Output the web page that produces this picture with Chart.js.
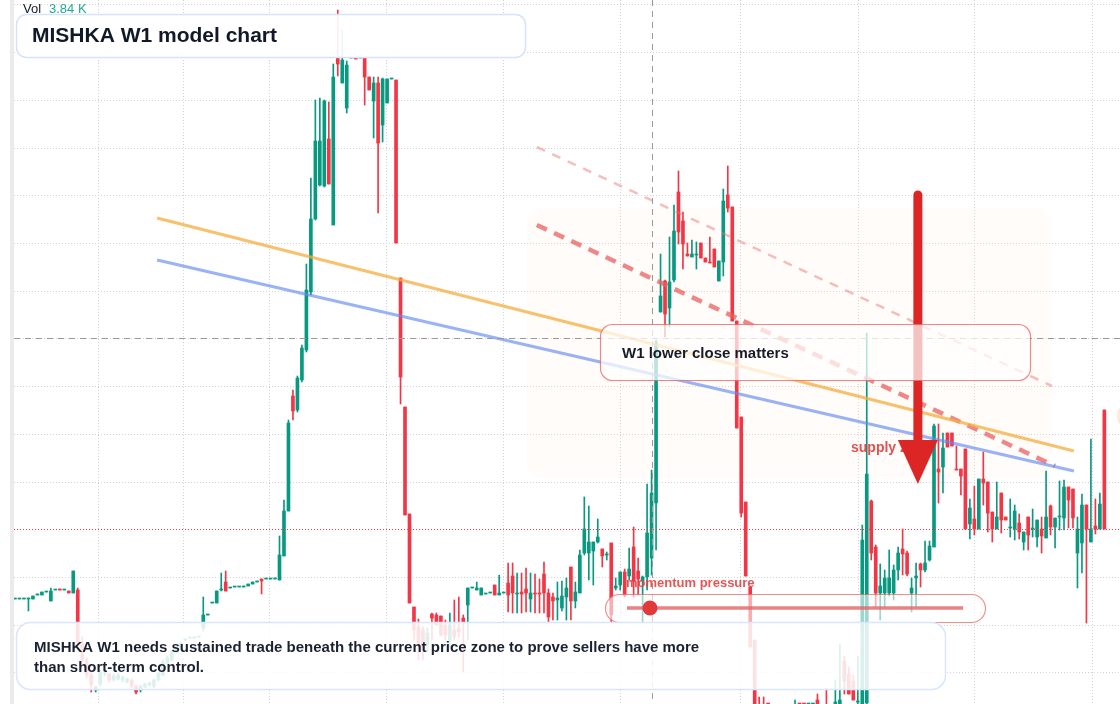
<!DOCTYPE html>
<html>
<head>
<meta charset="utf-8">
<title>MISHKA W1 model chart</title>
<script src="https://cdn.jsdelivr.net/npm/chart.js@4.4.1/dist/chart.umd.min.js"></script>
<style>
  html, body { margin: 0; padding: 0; background: #ffffff; }
  #wrap { position: relative; width: 1120px; height: 704px; overflow: hidden; }
</style>
</head>
<body>
<div id="wrap"><canvas id="chart" width="1120" height="704"></canvas></div>
<script>
// weekly candles (index = week number)
const opens = [
  1.21,1.21,1.21,1.21,1.21,1.25,1.25,1.28,1.19,1.30,1.31,1.30,1.29,1.27,1.30,0.77,0.60,0.45,0.30,0.36,
  0.46,0.46,0.40,0.41,0.40,0.38,0.40,0.34,0.30,0.33,0.35,0.34,0.40,0.45,0.57,0.60,0.68,0.73,0.80,0.82,
  0.82,0.83,0.92,1.05,1.17,1.17,1.30,1.38,1.32,1.33,1.33,1.33,1.34,1.36,1.38,1.41,1.41,1.41,1.41,1.40,
  1.64,2.09,3.24,3.10,3.40,3.70,4.28,5.01,5.35,5.34,5.81,4.95,6.62,6.37,6.12,6.62,6.62,6.62,6.62,6.43,
  6.19,6.37,5.95,6.17,6.41,6.40,4.42,3.13,2.06,1.13,0.93,0.90,0.75,1.06,1.05,1.04,0.95,0.80,0.90,0.92,
  1.02,1.15,1.32,1.30,1.25,1.26,1.27,1.35,1.25,1.27,1.37,1.44,1.26,1.28,1.31,1.21,1.27,1.27,1.46,1.27,
  1.23,1.20,1.12,1.23,1.53,1.19,1.27,1.67,1.67,1.69,1.78,1.71,1.65,1.77,1.32,1.35,1.48,1.44,1.73,1.49,
  1.39,1.43,1.62,2.17,4.08,4.39,4.12,4.40,5.28,4.99,4.66,4.63,4.65,4.77,4.62,4.58,4.71,4.39,4.58,5.25,
  5.13,3.99,3.03,2.18,1.33,0.80,0.12,0.15,0.08,0.13,0.07,0.04,0.04,0.14,0.06,0.08,0.08,0.07,0.07,0.20,
  0.06,0.14,0.14,0.12,0.11,0.59,0.46,0.39,0.18,0.04,0.17,2.19,1.73,1.27,1.27,1.27,1.27,1.50,1.71,1.67,
  1.27,1.42,1.56,1.50,1.60,1.73,2.51,2.53,2.87,2.87,2.51,2.51,2.71,1.96,2.01,1.91,2.41,2.38,2.08,1.91,
  2.27,2.03,1.92,1.91,1.97,1.78,2.03,1.91,1.83,1.91,1.82,2.14,1.93,2.03,2.02,2.33,2.31,1.67,1.77,2.15,
  1.78,1.94,1.91,3.10
];
const highs = [
  1.21,1.21,1.21,1.22,1.24,1.26,1.28,1.28,1.32,1.30,1.31,1.30,1.29,1.49,1.32,0.83,0.62,0.47,0.34,0.50,
  0.48,0.47,0.46,0.47,0.44,0.42,0.41,0.35,0.35,0.37,0.38,0.41,0.48,0.60,0.64,0.70,0.75,0.78,0.81,0.82,
  0.82,0.83,1.23,1.05,1.17,1.29,1.47,1.49,1.32,1.33,1.33,1.34,1.36,1.38,1.39,1.41,1.41,1.41,1.42,1.84,
  2.20,3.00,3.30,3.44,3.75,4.56,5.42,6.20,6.22,6.20,6.18,6.56,7.10,6.90,6.59,6.62,6.62,6.62,6.62,6.43,
  6.43,6.43,6.42,6.41,6.41,6.40,4.42,3.13,2.06,1.13,1.01,0.93,0.92,1.07,1.07,1.04,1.00,1.07,1.20,1.23,
  1.05,1.32,1.32,1.38,1.32,1.26,1.27,1.35,1.45,1.27,1.57,1.57,1.47,1.47,1.52,1.47,1.46,1.41,1.58,1.31,
  1.27,1.38,1.39,1.42,1.53,1.38,1.70,2.23,2.14,1.78,2.01,1.71,1.68,1.77,1.42,1.48,1.51,1.72,1.93,1.62,
  1.44,2.36,2.50,3.80,4.66,4.40,4.83,5.15,5.49,5.08,4.77,4.80,4.78,4.77,4.62,4.83,4.71,4.59,5.31,5.54,
  5.13,3.99,3.03,2.18,1.33,0.80,0.23,0.23,0.12,0.13,0.07,0.07,0.07,0.14,0.20,0.09,0.08,0.14,0.10,0.26,
  0.14,0.32,0.14,0.40,0.76,0.64,0.53,0.45,0.64,1.95,3.87,2.20,1.75,1.56,1.50,1.70,1.55,1.73,1.91,1.69,
  1.42,1.57,1.57,1.79,1.79,2.96,2.96,2.87,2.87,2.87,2.74,2.51,2.71,2.21,2.34,2.41,2.68,2.38,2.08,2.38,
  2.27,2.03,2.21,2.15,2.06,1.88,2.03,2.11,2.00,2.03,2.49,2.15,2.02,2.39,2.40,2.33,2.31,2.03,2.26,2.15,
  2.81,2.21,2.27,3.10
];
const lows = [
  1.21,1.21,1.21,1.09,1.21,1.25,1.25,1.28,1.19,1.30,1.30,1.30,1.27,1.27,0.77,0.58,0.42,0.28,0.28,0.34,
  0.44,0.38,0.39,0.40,0.38,0.37,0.32,0.26,0.28,0.32,0.34,0.32,0.39,0.44,0.56,0.59,0.67,0.72,0.79,0.82,
  0.82,0.83,0.89,1.05,1.17,1.17,1.29,1.29,1.32,1.33,1.33,1.33,1.34,1.36,1.38,1.26,1.41,1.41,1.41,1.40,
  1.64,2.09,3.00,3.08,3.38,3.68,4.25,5.00,5.34,5.33,5.36,4.95,6.44,6.37,6.07,6.62,6.61,6.62,6.15,6.30,
  5.82,5.07,5.78,6.17,6.41,4.77,3.16,2.05,1.17,0.80,0.60,0.60,0.68,0.80,0.95,0.84,0.80,0.73,0.80,0.83,
  0.48,0.80,1.32,1.30,1.25,1.26,1.27,1.25,1.25,1.27,1.08,1.07,1.07,1.07,1.08,1.08,1.07,1.07,1.07,0.98,
  1.00,1.00,1.09,1.00,1.00,1.12,1.27,1.65,1.40,1.35,1.77,1.53,1.60,0.98,1.30,1.30,1.23,1.40,1.23,1.25,
  0.98,1.30,1.45,1.70,4.08,3.83,3.93,4.38,4.76,4.51,4.64,4.63,4.51,4.62,4.58,4.57,4.53,4.39,4.44,5.08,
  3.99,2.92,2.03,1.44,0.73,0.04,0.04,0.04,0.04,0.05,0.06,0.04,0.04,0.04,0.04,0.04,0.07,0.06,0.06,0.04,
  0.04,0.04,0.07,0.10,0.10,0.26,0.26,0.20,0.04,0.00,0.04,1.60,1.13,1.00,1.13,1.24,1.20,1.40,1.45,1.44,
  1.08,1.13,1.33,1.48,1.59,1.73,2.17,2.27,2.73,2.74,2.50,2.25,1.91,1.81,1.85,1.91,2.15,1.88,1.78,1.91,
  1.87,2.00,1.83,1.80,1.81,1.70,1.70,1.83,1.73,1.67,1.82,1.85,1.72,1.90,1.90,1.92,1.92,1.32,1.47,0.97,
  1.78,1.86,1.91,1.91
];
const closes = [
  1.21,1.21,1.21,1.22,1.24,1.26,1.28,1.28,1.29,1.30,1.30,1.30,1.27,1.49,0.77,0.60,0.45,0.35,0.33,0.48,
  0.46,0.40,0.44,0.45,0.43,0.41,0.34,0.28,0.34,0.36,0.37,0.40,0.47,0.58,0.62,0.69,0.73,0.77,0.80,0.82,
  0.82,0.83,1.05,1.05,1.17,1.29,1.31,1.29,1.32,1.33,1.33,1.34,1.36,1.38,1.39,1.39,1.41,1.41,1.42,1.65,
  2.09,2.97,3.09,3.42,3.72,4.30,5.01,5.79,5.79,6.19,5.36,6.43,6.56,6.60,6.55,6.62,6.61,6.62,6.43,6.30,
  6.37,5.77,6.41,6.41,6.41,4.77,3.43,2.05,1.17,0.90,0.77,0.70,0.87,1.02,0.95,0.85,0.85,0.95,0.83,0.88,
  0.98,1.32,1.32,1.32,1.32,1.26,1.27,1.25,1.27,1.27,1.25,1.27,1.27,1.26,1.27,1.27,1.26,1.26,1.27,1.03,
  1.19,1.22,1.24,1.32,1.19,1.28,1.65,1.91,1.78,1.78,1.83,1.64,1.65,1.05,1.34,1.48,1.25,1.51,1.39,1.41,
  1.43,1.87,2.27,3.77,4.24,4.06,4.38,4.89,4.88,4.76,4.64,4.66,4.66,4.62,4.58,4.57,4.53,4.59,5.19,5.12,
  3.99,2.92,2.07,1.44,0.73,0.04,0.04,0.07,0.07,0.05,0.06,0.07,0.07,0.04,0.07,0.07,0.07,0.07,0.08,0.04,
  0.07,0.04,0.07,0.18,0.20,0.39,0.26,0.20,0.19,1.80,2.46,1.67,1.27,1.34,1.42,1.42,1.50,1.67,1.66,1.46,
  1.32,1.44,1.50,1.57,1.74,2.94,2.48,2.72,2.73,2.74,2.50,2.44,1.91,2.12,1.91,2.41,2.37,2.07,1.91,2.03,
  2.00,2.00,1.92,2.09,1.88,1.88,1.85,1.91,2.00,1.84,2.03,1.93,2.02,2.03,2.33,2.20,2.02,1.91,2.15,1.91,
  1.91,1.91,2.16,1.91
];

// dotted grid: time grid (week index) and price grid
const timeGrid = [18.5, 37.5, 56.7, 82.8, 108.9, 135.0, 161.7, 188.0, 213.9, 240.2];
const priceGrid = [0.477, 0.954, 1.431, 1.908, 2.385, 2.862, 3.339, 3.816, 4.293, 4.770, 5.247, 5.724, 6.201, 6.678, 7.155];

const lastPrice = 1.91;
const crossWeek = 142;
const crossPrice = 3.82;

// drawn trend lines [week, price]
const orangeTrend = [[31.7, 5.02], [236.2, 2.69]];
const blueTrend = [[31.7, 4.60], [236.2, 2.49]];
const redTrend = [[116.4, 4.95], [232.0, 2.54]];
const redTrendFaint = [[116.4, 5.73], [231.3, 3.34]];

// shaded zone and arrow
const zoneWeeks = [114.2, 231.3];
const zonePrices = [2.42, 5.12];
const arrowWeek = 201.4;
const arrowPrices = [5.25, 2.80, 2.36]; // top, head base, tip

const UP = '#089981';
const DOWN = '#f23645';

const weeks = opens.map((_, i) => i);
const candleColor = weeks.map(i => closes[i] >= opens[i] ? UP : DOWN);
const wickData = weeks.map(i => ({ x: i, y: [lows[i], highs[i]] }));
const bodyData = weeks.map(i => ({ x: i, y: [opens[i], closes[i]] }));

function toPts(arr) { return arr.map(p => ({ x: p[0], y: p[1] })); }

function roundRect(ctx, x, y, w, h, r) {
  ctx.beginPath();
  ctx.moveTo(x + r, y);
  ctx.arcTo(x + w, y, x + w, y + h, r);
  ctx.arcTo(x + w, y + h, x, y + h, r);
  ctx.arcTo(x, y + h, x, y, r);
  ctx.arcTo(x, y, x + w, y, r);
  ctx.closePath();
}

// grid, left strip and the soft zone go under the candles
const backdrop = {
  id: 'backdrop',
  beforeDatasetsDraw(chart) {
    const { ctx, chartArea: a, scales: { x, y } } = chart;
    ctx.save();
    ctx.fillStyle = '#ebebeb';
    ctx.fillRect(10, 0, 4, chart.height);

    ctx.strokeStyle = '#d3d3d3';
    ctx.lineWidth = 1;
    ctx.setLineDash([1, 2]);
    priceGrid.forEach(v => {
      const py = Math.round(y.getPixelForValue(v)) + 0.5;
      ctx.beginPath(); ctx.moveTo(a.left, py); ctx.lineTo(a.right, py); ctx.stroke();
    });
    timeGrid.forEach(v => {
      const px = Math.round(x.getPixelForValue(v)) + 0.5;
      ctx.beginPath(); ctx.moveTo(px, a.top); ctx.lineTo(px, a.bottom); ctx.stroke();
    });
    ctx.setLineDash([]);

    const zx0 = x.getPixelForValue(zoneWeeks[0]), zx1 = x.getPixelForValue(zoneWeeks[1]);
    const zy0 = y.getPixelForValue(zonePrices[1]), zy1 = y.getPixelForValue(zonePrices[0]);
    roundRect(ctx, zx0, zy0, zx1 - zx0, zy1 - zy0, 16);
    ctx.fillStyle = 'rgba(252, 228, 208, 0.13)';
    ctx.fill();
    ctx.restore();
  }
};

// crosshair, price line, arrow and the text boxes on top
const overlay = {
  id: 'overlay',
  afterDatasetsDraw(chart) {
    const { ctx, chartArea: a, scales: { x, y } } = chart;
    ctx.save();

    // last price line
    ctx.strokeStyle = DOWN;
    ctx.lineWidth = 1;
    ctx.setLineDash([1, 2]);
    const lp = Math.round(y.getPixelForValue(lastPrice)) + 0.5;
    ctx.beginPath(); ctx.moveTo(a.left, lp); ctx.lineTo(a.right, lp); ctx.stroke();

    // crosshair
    ctx.strokeStyle = '#9a9a9a';
    ctx.setLineDash([6, 5]);
    const cy = Math.round(y.getPixelForValue(crossPrice)) + 0.5;
    const cx = Math.round(x.getPixelForValue(crossWeek)) + 0.5;
    ctx.beginPath(); ctx.moveTo(a.left, cy); ctx.lineTo(a.right, cy); ctx.stroke();
    ctx.beginPath(); ctx.moveTo(cx, a.top); ctx.lineTo(cx, a.bottom); ctx.stroke();
    ctx.setLineDash([]);

    // supply zone label, partly hidden by the arrow head
    ctx.font = 'bold 14px "Liberation Sans", Arial, sans-serif';
    ctx.textBaseline = 'middle';
    ctx.fillStyle = 'rgba(224, 62, 62, 0.9)';
    ctx.fillText('supply zone', 851, 448);

    // big arrow
    const ax = x.getPixelForValue(arrowWeek);
    const aTop = y.getPixelForValue(arrowPrices[0]);
    const aBase = y.getPixelForValue(arrowPrices[1]);
    const aTip = y.getPixelForValue(arrowPrices[2]);
    ctx.strokeStyle = '#dc2626';
    ctx.lineWidth = 9;
    ctx.lineCap = 'round';
    ctx.beginPath(); ctx.moveTo(ax, aTop); ctx.lineTo(ax, aBase + 2); ctx.stroke();
    ctx.lineCap = 'butt';
    ctx.fillStyle = '#dc2626';
    ctx.beginPath();
    ctx.moveTo(ax - 20, aBase); ctx.lineTo(ax + 20, aBase); ctx.lineTo(ax, aTip);
    ctx.closePath(); ctx.fill();

    // right edge marker
    ctx.fillStyle = 'rgba(253, 224, 192, 0.7)';
    ctx.beginPath(); ctx.arc(1131, 416, 14, 0, Math.PI * 2); ctx.fill();

    // "W1 lower close matters" callout
    roundRect(ctx, 600.5, 324.5, 430, 56, 12);
    ctx.fillStyle = 'rgba(255, 255, 255, 0.72)';
    ctx.fill();
    ctx.strokeStyle = 'rgba(232, 96, 96, 0.75)';
    ctx.lineWidth = 1.2;
    ctx.stroke();
    ctx.fillStyle = '#161b26';
    ctx.font = 'bold 15px "Liberation Sans", Arial, sans-serif';
    ctx.fillText('W1 lower close matters', 622, 354);

    // momentum pressure pill
    ctx.fillStyle = 'rgba(226, 62, 62, 0.88)';
    ctx.font = 'bold 13px "Liberation Sans", Arial, sans-serif';
    ctx.fillText('momentum pressure', 626, 583);
    roundRect(ctx, 605.5, 594.5, 380, 28, 14);
    ctx.fillStyle = 'rgba(255, 255, 255, 0.6)';
    ctx.fill();
    ctx.strokeStyle = 'rgba(232, 96, 96, 0.7)';
    ctx.lineWidth = 1.2;
    ctx.stroke();
    ctx.strokeStyle = 'rgba(228, 100, 100, 0.8)';
    ctx.lineWidth = 3.5;
    ctx.beginPath(); ctx.moveTo(627, 608); ctx.lineTo(963, 608); ctx.stroke();
    ctx.fillStyle = '#e23a3a';
    ctx.beginPath(); ctx.arc(650, 608, 7.5, 0, Math.PI * 2); ctx.fill();

    // bottom note
    roundRect(ctx, 16.5, 622.5, 929, 67, 14);
    ctx.fillStyle = 'rgba(255, 255, 255, 0.86)';
    ctx.fill();
    ctx.strokeStyle = '#d9e5fa';
    ctx.lineWidth = 1.5;
    ctx.stroke();
    ctx.fillStyle = '#1b2130';
    ctx.font = 'bold 15px "Liberation Sans", Arial, sans-serif';
    ctx.fillText('MISHKA W1 needs sustained trade beneath the current price zone to prove sellers have more', 34, 648);
    ctx.fillText('than short-term control.', 34, 668);

    // title box
    roundRect(ctx, 16.5, 14.5, 509, 43, 10);
    ctx.fillStyle = 'rgba(255, 255, 255, 0.92)';
    ctx.fill();
    ctx.strokeStyle = '#d5e2fa';
    ctx.lineWidth = 1.5;
    ctx.stroke();
    ctx.fillStyle = '#111827';
    ctx.font = 'bold 21px "Liberation Sans", Arial, sans-serif';
    ctx.fillText('MISHKA W1 model chart', 32, 36);

    // volume legend
    ctx.font = '13px "Liberation Sans", Arial, sans-serif';
    ctx.fillStyle = '#131722';
    ctx.fillText('Vol', 23, 9);
    ctx.fillStyle = '#22ab94';
    ctx.fillText('3.84 K', 49, 9);

    ctx.restore();
  }
};

const trendStyle = (data, color, width, dash) => ({
  type: 'line',
  data: toPts(data),
  borderColor: color,
  borderWidth: width,
  borderDash: dash,
  pointRadius: 0,
  tension: 0,
  fill: false,
  order: 0
});

new Chart(document.getElementById('chart'), {
  type: 'bar',
  data: {
    datasets: [
      trendStyle(orangeTrend, 'rgba(246, 172, 60, 0.75)', 3, []),
      trendStyle(blueTrend, 'rgba(98, 138, 240, 0.65)', 3, []),
      trendStyle(redTrendFaint, 'rgba(236, 110, 110, 0.45)', 2.5, [9, 8]),
      trendStyle(redTrend, 'rgba(232, 96, 96, 0.75)', 4.5, [11, 8]),
      {
        label: 'body',
        data: bodyData,
        backgroundColor: candleColor,
        barThickness: 3,
        minBarLength: 1,
        grouped: false,
        borderWidth: 0,
        order: 1
      },
      {
        label: 'wick',
        data: wickData,
        backgroundColor: candleColor,
        barThickness: 1,
        grouped: false,
        borderWidth: 0,
        order: 2
      }
    ]
  },
  options: {
    responsive: false,
    animation: false,
    events: [],
    layout: { padding: { left: 14, right: 0, top: 0, bottom: 0 } },
    plugins: { legend: { display: false }, tooltip: { enabled: false } },
    scales: {
      x: { type: 'linear', min: -0.223, max: 246.49, offset: false, display: false },
      y: { type: 'linear', min: 0.16, max: 7.20, display: false }
    }
  },
  plugins: [backdrop, overlay]
});
</script>
</body>
</html>
